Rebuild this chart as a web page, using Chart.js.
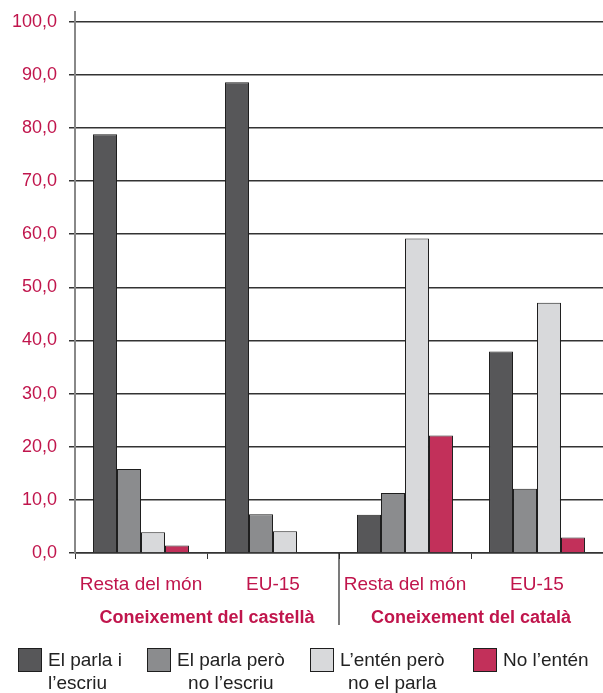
<!DOCTYPE html>
<html>
<head>
<meta charset="utf-8">
<script src="https://cdn.jsdelivr.net/npm/chart.js@4"></script>
<style>
  body { margin: 0; background: #fff; }
</style>
</head>
<body>
<canvas id="chart" width="603" height="693"></canvas>
<script>
const categories = ['Resta del món', 'EU-15', 'Resta del món', 'EU-15']
const groups = ['Coneixement del castellà', 'Coneixement del català']
const seriesNames = [
  ['El parla i', 'l’escriu'],
  ['El parla però', 'no l’escriu'],
  ['L’entén però', 'no el parla'],
  ['No l’entén'],
]
const parlaEscriu = [78.8, 88.6, 7.2, 37.9]
const parlaNoEscriu = [15.8, 7.3, 11.3, 12.1]
const entenNoParla = [3.9, 4.1, 59.2, 47.1]
const noEnten = [1.4, 0, 22.1, 2.9]
const yTicks = [0, 10, 20, 30, 40, 50, 60, 70, 80, 90, 100]

const colors = ['#575759', '#8b8c8e', '#d8d9db', '#c2305a']
const crimson = '#c0154c'
const fontFamily = '"Liberation Sans", Arial, sans-serif'

const makeSet = (i, data) => ({
  label: seriesNames[i].join(' '),
  data,
  backgroundColor: colors[i],
  borderColor: '#1e1e1e',
  borderWidth: 1,
  categoryPercentage: 0.727,
  barPercentage: 1.0,
})

const extras = {
  id: 'extras',
  afterDraw(chart) {
    const ctx = chart.ctx
    const x = chart.scales.x
    const area = chart.chartArea
    ctx.save()
    // separator between the two groups
    const sepX = (x.getPixelForValue(1) + x.getPixelForValue(2)) / 2
    ctx.strokeStyle = '#222'
    ctx.lineWidth = 1.2
    ctx.beginPath()
    ctx.moveTo(sepX, area.bottom)
    ctx.lineTo(sepX, area.bottom + 72)
    ctx.stroke()

    // group labels
    ctx.fillStyle = crimson
    ctx.font = 'bold 18px ' + fontFamily
    ctx.textAlign = 'center'
    ctx.textBaseline = 'middle'
    groups.forEach((g, i) => {
      const cx = (x.getPixelForValue(i * 2) + x.getPixelForValue(i * 2 + 1)) / 2
      ctx.fillText(g, cx, area.bottom + 65)
    })

    // legend
    const boxX = [18, 147, 310, 473]
    ctx.font = '19px ' + fontFamily
    ctx.textBaseline = 'middle'
    seriesNames.forEach((lines, i) => {
      ctx.fillStyle = colors[i]
      ctx.fillRect(boxX[i], 648, 24, 24)
      ctx.strokeStyle = '#1e1e1e'
      ctx.lineWidth = 1
      ctx.strokeRect(boxX[i] + 0.5, 648.5, 23, 23)
      ctx.fillStyle = '#222'
      ctx.textAlign = 'left'
      const tx = boxX[i] + 30
      const w1 = ctx.measureText(lines[0]).width
      ctx.fillText(lines[0], tx, 661)
      if (lines[1]) {
        const w2 = ctx.measureText(lines[1]).width
        const off = i === 0 ? 0 : (w1 - w2) / 2
        ctx.fillText(lines[1], tx + off, 684)
      }
    })
    ctx.restore()
  },
}

new Chart(document.getElementById('chart'), {
  type: 'bar',
  data: {
    labels: categories,
    datasets: [
      makeSet(0, parlaEscriu),
      makeSet(1, parlaNoEscriu),
      makeSet(2, entenNoParla),
      makeSet(3, noEnten),
    ],
  },
  options: {
    responsive: false,
    animation: false,
    layout: { padding: { top: 12, right: 0, bottom: 100, left: 0 } },
    plugins: {
      legend: { display: false },
      tooltip: { enabled: false },
    },
    scales: {
      x: {
        grid: {
          drawOnChartArea: false,
          drawTicks: true,
          tickLength: 6,
          offset: true,
          color: '#333',
        },
        border: { display: true, color: '#333', width: 1.5 },
        ticks: {
          color: crimson,
          font: { family: fontFamily, size: 19 },
          padding: 14,
          maxRotation: 0,
        },
        afterFit(scale) { scale.height = 40 },
      },
      y: {
        min: 0,
        max: 101.8,
        afterBuildTicks(scale) {
          scale.ticks = yTicks.map(v => ({ value: v }))
        },
        grid: {
          color: '#333',
          lineWidth: 1.5,
          tickLength: 6,
          tickColor: '#333',
        },
        border: { display: true, color: '#888', width: 2 },
        ticks: {
          color: crimson,
          font: { family: fontFamily, size: 18 },
          padding: 12,
          callback: v => v.toFixed(1).replace('.', ','),
        },
        afterFit(scale) {
          scale.width = 75
          scale.paddingTop = 0
          scale.paddingBottom = 0
        },
      },
    },
  },
  plugins: [extras],
})
</script>
</body>
</html>
